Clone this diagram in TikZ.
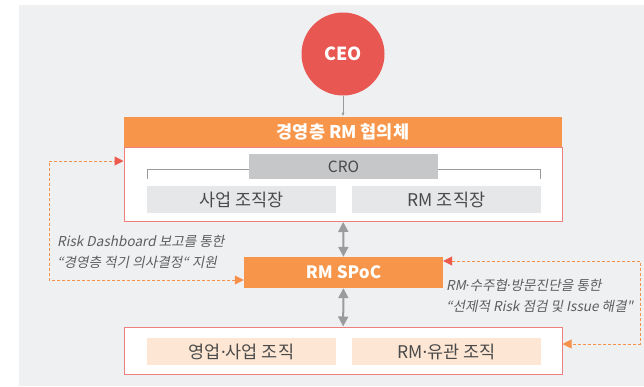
\documentclass[tikz,border=0pt]{standalone}
\usepackage{fontspec}
\setmainfont{Noto Sans CJK KR}
\newfontfamily\krit[FakeSlant=0.2]{Noto Sans CJK KR}
\newfontfamily\dotfont{Noto Sans}
\newcommand\mdot{{\dotfont ·}}
\usetikzlibrary{arrows.meta}
\definecolor{bggray}{HTML}{EFF0F2}
\definecolor{ceored}{HTML}{E85752}
\definecolor{rmorange}{HTML}{F7964A}
\definecolor{crogray}{HTML}{C6C7C9}
\definecolor{boxgray}{HTML}{E6E7E9}
\definecolor{peach}{HTML}{FDE6D3}
\definecolor{pinkline}{HTML}{EF7F7C}
\definecolor{dashred}{HTML}{EE5A4C}
\definecolor{dashorange}{HTML}{F7914A}
\definecolor{txtgray}{HTML}{4A4A4A}
\definecolor{notegray}{HTML}{5E5E5E}
\definecolor{arrgray}{HTML}{9B9B9B}

\tikzset{
  frame/.style={draw=pinkline, line width=1pt, fill=white, minimum width=438pt, inner sep=0pt},
  unit/.style={fill=#1, minimum width=189pt, minimum height=27pt, inner sep=0pt,
    text=txtgray, font=\fontsize{17.5}{17.5}\selectfont},
  orangebox/.style={fill=rmorange, inner sep=0pt, text=white,
    font=\fontsize{17}{17}\selectfont\bfseries},
  link/.style={{Triangle[length=10pt,width=10pt]}-{Triangle[length=10pt,width=10pt]},
    arrgray, line width=2pt},
  feedback/.style={dashed, dash pattern=on 3pt off 2pt, line width=1pt, dashorange},
  note/.style={text=notegray, align=left, inner sep=0pt,
    font=\fontsize{13.6}{21.5}\selectfont\krit}
}

\begin{document}
\begin{tikzpicture}[x=1pt,y=-1pt]
\useasboundingbox (0,0) rectangle (644,386);
\fill[bggray] (19,5) rectangle (644,386);

% top
\node[circle, fill=ceored, minimum size=83pt, inner sep=0pt, text=white,
  font=\fontsize{18}{18}\selectfont\bfseries] (ceo) at (343,54) {CEO};
\node[frame, minimum height=74pt, anchor=north] (council) at (343,147) {};
\node[orangebox, minimum width=438pt, minimum height=30pt, anchor=south,
  font=\fontsize{17.5}{17.5}\selectfont\bfseries] (head) at (343,147) {경영층 RM 협의체};
\draw[-{Latex[length=4pt,width=3pt]}, arrgray, line width=0.8pt] (ceo) -- (head);

\node[unit=boxgray] (biz) at (241.5,199.5) {사업 조직장};
\node[unit=boxgray] (rmhead) at (446.5,199.5) {RM 조직장};
\node[unit=crogray, minimum height=25pt, font=\fontsize{15.5}{15.5}\selectfont] (cro) at (343.5,166.5) {CRO};
\draw[arrgray, line width=0.8pt] ([xshift=1pt,yshift=7pt]biz.north west) |- ([yshift=-2.5pt]cro.west);
\draw[arrgray, line width=0.8pt] ([xshift=-1pt,yshift=7pt]rmhead.north east) |- ([yshift=-2.5pt]cro.east);

% middle
\node[orangebox, minimum width=199pt, minimum height=31pt] (spoc) at (343.5,272.5) {RM SPoC};

% bottom
\node[frame, minimum height=47pt] (field) at (343,350.5) {};
\node[unit=peach] (sales) at (241.5,351.5) {영업\mdot 사업 조직};
\node[unit=peach] (rmrel) at (446.5,351.5) {RM\mdot 유관 조직};

\draw[link] (council) -- (spoc);
\draw[link] (spoc) -- (field);

% feedback loops
\coordinate (lt) at (49,161);
\coordinate (lb) at (49,280);
\coordinate (rt) at (640,261);
\coordinate (rb) at (640,344);
\draw[feedback, {Triangle[length=9pt,width=9pt,color=dashorange]}-{Triangle[length=9pt,width=9pt,color=dashred]}]
  (spoc.west |- lb) -- (lb) -- (lt) -- (council.west |- lt);
\draw[feedback, {Triangle[length=9pt,width=9pt,color=dashred]}-{Triangle[length=9pt,width=9pt,color=dashorange]}]
  (spoc.east |- rt) -- (rt) -- (rb) -- (field.east |- rb);

\node[note, anchor=west] (leftnote) at (57,252) {Risk Dashboard 보고를 통한\\“경영층 적기 의사결정“ 지원};
\node[note, anchor=west] (rightnote) at (446,296) {RM\mdot 수주협\mdot 방문진단을 통한\\ “선제적 Risk 점검 및 Issue 해결"};
\end{tikzpicture}
\end{document}
